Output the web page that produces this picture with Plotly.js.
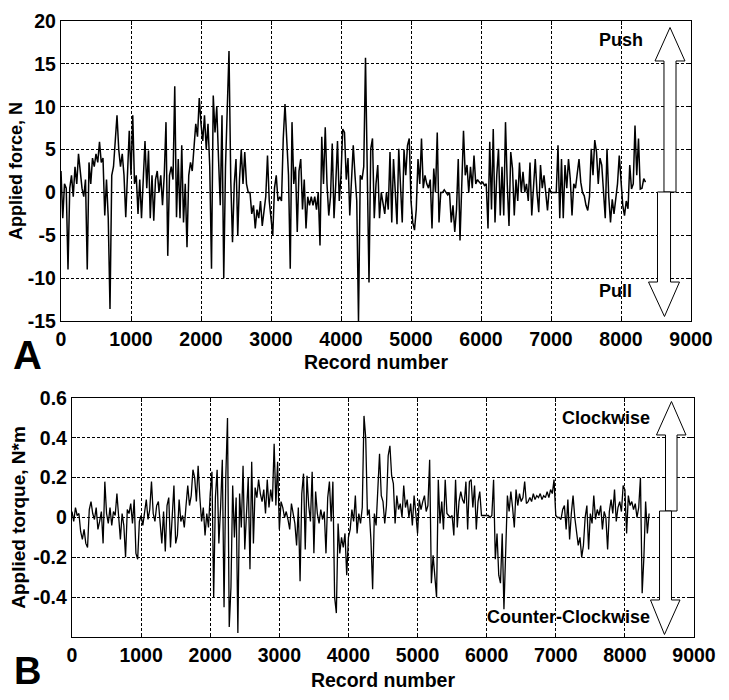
<!DOCTYPE html>
<html>
<head>
<meta charset="utf-8">
<script src="https://cdn.plot.ly/plotly-3.0.1.min.js"></script>
<style>body{margin:0;background:#fff}</style>
</head>
<body>
<div id="chart" style="width:729px;height:700px"></div>
<script>
// one value every 25 records
var step = 25;

var force = [
    2.5, -3, 1, 0.5, -9, 0.5, 2, -0.5, 3, 1, 4.5, 2, 0.5, -0.5, 1.5, -9, 3.5, 1, 4, 3,
    4.5, 3.5, 5.9, 3.5, 4, -2.7, 1.5, -3, -13.6, 2, 3, 6, 9, 5, 3, 4.5, 2, -2.9, 3, 7.2,
    2, 9, 1, 2, -2.5, 1.5, -3, 2, 6, 0.5, 4.9, -3, 2, -3.3, 1.5, 2.5, 0, 2, -1.5, 2,
    8.2, -7.4, 2, 3, 1.5, 12.4, -2.9, 3.9, -3, 5.5, -3.5, 1, -6.4, 2, 3.5, 2.5, 5, 8, 6.5, 11,
    8, 6, 9, 5, 8, 3, -8.9, 11.3, 7, 10, 4, -1.5, 9, -10, 3, 8.6, 16.5, 1.5, -5.8, 1,
    3.9, -5, 1.5, 5, 1, 4.7, 1, 0, 0, -2.5, -1.5, -4.2, -2, -3, -1, -3.9, -2, -0.5, 4.3, -1,
    -3, -5, 0.5, 2, -1, -0.5, -1, 6.3, 10.3, 5.1, 2, -8.9, 8.2, 1, 3, -4.6, 2.5, 3.9, -2, 1.5,
    -4.2, -0.5, -1.5, -0.5, -1.5, -0.5, -2, 0, -6.2, 6.5, 1, 7.6, 1, -2.7, -0.5, 5.7, -3, 1, 6, -1,
    2, 7.4, 7, 1.5, 4, -2.7, 1, 5.5, 2, -1, -15, 2, 1.5, 3, 15.7, 2, -10.5, 5.1, 6.3, -3,
    1, 3.2, -3, 0, -1.5, -2.5, 0, -2, 4.7, -3.5, 3.9, 0.5, -3.7, 5.1, 1, -3.5, 5, 2, 5.5, 6.3,
    -1, -3.5, -4.4, -2, 3.9, 1, 6.3, 0.5, 2, 1, 0.5, 1.5, -4.2, 2.8, 0, 7, -3.5, 0, 0, 0.3,
    0, -0.3, 0, -3.5, -1.5, -4.6, -2, 3.9, -5.6, 0, 7.2, 2, 3.2, 0, 3, 0.5, 4.3, 1, 1.5, 1.2,
    1, 1.2, 0.8, 1, -4.2, 5.9, -2, 7.4, -3.5, 2, 5.1, -2.7, 3, -2.7, 8.2, 1, -3.9, 4.7, 2.8, -2.7,
    1.5, -1, 3.5, 0, 2.4, 0, 1, -1, 3.5, -2.7, 1, 3.9, 0, -2.3, 3.2, 0.5, 2, 0.3, -2.1, 0.5,
    0, 0, 0, 0, 5.5, -3, 3.9, -3, 3.2, 0.5, 3.9, 1.6, -2.7, 1, 0.5, 2, 3.9, 1.2, 0, -0.4,
    -1.5, -2.1, -0.5, 5.1, 2, 6.1, 4.7, 1, 4, 3.2, 0.5, -3, 5.1, -0.5, -3.5, -0.8, -2.5, -0.5, 1, 4.3,
    1.2, -1.5, -2.7, -1, -1.9, 3.2, 0.4, 1, 7.8, 2, 6.3, 0.4, 0.5, 1.6, 1.2
];

var torque = [
    0.03, -0.02, 0.05, 0.01, 0.02, -0.07, -0.11, -0.06, -0.13, -0.15, 0.04, 0.08, 0.02, -0.01, 0.05, -0.06, -0.02, 0.03, -0.13, 0.18,
    0.02, -0.03, 0.05, -0.04, 0.03, 0.01, 0.12, -0.02, -0.11, 0.02, -0.04, -0.2, 0.04, 0.02, 0.07, -0.03, 0.09, -0.18, -0.21, -0.02,
    0.01, -0.04, 0.03, 0.09, -0.01, 0.04, 0.18, 0.02, -0.02, 0.06, 0.08, -0.04, -0.13, 0.03, -0.17, 0.06, 0.1, -0.15, 0.03, 0.16,
    -0.13, -0.09, 0.09, -0.02, 0.01, -0.05, 0.06, 0.16, 0.06, 0.11, 0.24, 0.2, 0.08, 0.26, 0.1, -0.02, 0.05, -0.09, 0.02, -0.05,
    0.12, 0.23, -0.4, 0.1, 0.24, -0.13, 0.05, 0.29, -0.45, 0.2, 0.5, -0.55, -0.35, 0.16, -0.1, 0.1, -0.58, 0.12, -0.05, 0.26,
    -0.16, 0.05, 0.2, -0.26, 0.28, -0.13, 0.15, 0.1, 0.19, 0.12, 0.08, 0.14, 0.02, 0.19, 0.05, 0.14, 0.08, 0.37, 0.06, 0.28,
    -0.06, 0.08, 0.05, 0, 0.03, -0.01, -0.06, 0.07, 0.02, -0.03, -0.14, 0.05, -0.32, 0.12, 0.22, -0.16, 0.21, 0.06, -0.02, 0.23,
    -0.18, 0.13, 0.02, -0.03, 0.04, -0.01, 0.03, -0.18, 0.1, 0.18, -0.02, 0.18, -0.4, -0.48, -0.03, -0.18, -0.1, -0.15, -0.08, -0.29,
    -0.1, -0.06, 0.04, -0.02, 0.11, -0.08, 0.02, -0.03, 0.05, 0.51, 0.4, 0.01, 0.04, -0.11, -0.36, 0.02, -0.04, 0.19, 0.32, 0.11,
    0.08, -0.03, 0.06, 0.31, 0.36, 0.21, 0.17, -0.03, 0.11, 0.04, 0.07, 0, 0.16, 0.05, 0.09, 0, 0.07, -0.04, 0.11, 0.02,
    -0.08, 0.09, 0.04, 0.08, 0.11, 0.03, 0.06, 0.29, -0.33, -0.19, -0.3, -0.4, 0.19, -0.03, 0.08, -0.06, 0.19, 0.02, 0.01, 0,
    0.01, -0.09, 0.19, -0.05, 0.08, 0.13, 0.09, 0.07, 0.18, -0.06, 0.18, 0.19, 0.05, 0.16, -0.06, 0.08, 0.13, 0.01, 0.01, 0.01,
    0.01, 0.01, 0, 0.01, 0.19, -0.21, -0.08, -0.29, -0.33, -0.08, -0.46, -0.1, 0.11, 0.03, 0.13, 0.05, -0.05, 0.14, 0.06, 0.12,
    0.08, 0.1, 0.18, 0.07, 0.08, 0.1, 0.08, 0.12, 0.09, 0.11, 0.1, 0.12, 0.09, 0.11, 0.1, 0.13, 0.1, 0.14, 0.12, 0.19,
    0.01, 0, 0, -0.01, 0.04, 0.06, -0.06, 0.09, -0.11, 0.02, 0.11, 0, -0.08, -0.14, -0.1, -0.2, -0.14, 0, 0.06, -0.16,
    0.02, -0.03, 0.11, -0.01, 0.04, 0.01, 0.06, -0.06, 0.03, 0, -0.16, 0.03, 0.09, 0.02, 0.14, -0.02, 0.05, 0.08, 0.03, 0.16,
    0.14, -0.08, 0.11, 0.06, 0.08, 0.04, 0.07, 0, 0.05, 0.2, -0.38, -0.2, 0.08, -0.08, 0.02
];

var recordTicks = [0, 1000, 2000, 3000, 4000, 5000, 6000, 7000, 8000, 9000];
var forceTicks = [-15, -10, -5, 0, 5, 10, 15, 20];
var forceTickText = ['-15', '-10', '-5', '0', '5', '10', '15', '20'];
var torqueTicks = [-0.4, -0.2, 0, 0.2, 0.4, 0.6];
var torqueTickText = ['-0.4', '-0.2', '0', '0.2', '0.4', '0.6'];

var forceRecords = force.map(function (v, i) { return i * step; });
var torqueRecords = torque.map(function (v, i) { return i * step; });

var W = 729, H = 700;
var FONT = '"Liberation Sans", Arial, Helvetica, sans-serif';

function boldFont(size) {
    return { family: FONT, size: size, color: '#000', weight: 'bold' };
}

function px(x) { return x / W; }
function py(y) { return 1 - y / H; }

function axis(extra) {
    var a = {
        showline: true,
        mirror: 'ticks',
        linecolor: '#000',
        linewidth: 1.2,
        ticks: 'inside',
        ticklen: 4,
        tickcolor: '#000',
        showgrid: true,
        gridcolor: '#000',
        gridwidth: 1,
        griddash: '3px,2px',
        zeroline: false,
        tickfont: boldFont(19.5),
        tickmode: 'array',
        fixedrange: true
    };
    for (var k in extra) a[k] = extra[k];
    return a;
}

// double arrows drawn in pixel space
function arrowPath(points) {
    return 'M' + points.map(function (p) {
        return px(p[0]).toFixed(4) + ',' + py(p[1]).toFixed(4);
    }).join(' L') + ' Z';
}

function arrowShape(points) {
    return {
        type: 'path', xref: 'paper', yref: 'paper', layer: 'above',
        path: arrowPath(points),
        fillcolor: '#fff',
        line: { color: '#000', width: 1 }
    };
}

var shapes = [
    arrowShape([[664, 192], [664, 61], [655, 61], [670, 27.5], [685, 61], [676, 61], [676, 192]]),
    arrowShape([[657.5, 192], [670.5, 192], [670.5, 282], [679.5, 282], [664.5, 316.5], [648.5, 282], [657.5, 282]]),
    arrowShape([[665.5, 511], [665.5, 435], [656.5, 435], [671.5, 401.5], [686, 435], [677, 435], [677, 511]]),
    arrowShape([[659.5, 511], [671.5, 511], [671.5, 600], [680, 600], [664.5, 634.5], [650.5, 600], [659.5, 600]])
];

function label(text, x, y, size, anchor) {
    return {
        text: text, xref: 'paper', yref: 'paper',
        x: px(x), y: py(y), xanchor: anchor || 'center', yanchor: 'middle',
        showarrow: false, font: boldFont(size)
    };
}

var annotations = [
    label('A', 27, 355, 40),
    label('B', 27, 671, 38),
    label('Push', 620.5, 40, 18),
    label('Pull', 615, 291.5, 18),
    label('Clockwise', 652, 418, 18, 'right'),
    label('Counter-Clockwise', 652, 616.5, 18, 'right')
];

var data = [
    {
        x: forceRecords, y: force, xaxis: 'x', yaxis: 'y',
        type: 'scatter', mode: 'lines',
        line: { color: '#000', width: 1.5 }, hoverinfo: 'skip'
    },
    {
        x: torqueRecords, y: torque, xaxis: 'x2', yaxis: 'y2',
        type: 'scatter', mode: 'lines',
        line: { color: '#000', width: 1.3 }, hoverinfo: 'skip'
    }
];

var layout = {
    width: W,
    height: H,
    margin: { l: 0, r: 0, t: 0, b: 0, pad: 0 },
    paper_bgcolor: '#fff',
    plot_bgcolor: '#fff',
    showlegend: false,
    xaxis: axis({
        domain: [px(61), px(691)], anchor: 'y', range: [0, 9000],
        tickvals: recordTicks, ticktext: recordTicks.map(String),
        title: { text: 'Record number', font: boldFont(19.5), standoff: 6 }
    }),
    yaxis: axis({
        domain: [py(321), py(21)], anchor: 'x', range: [-15, 20],
        tickvals: forceTicks, ticktext: forceTickText,
        title: { text: 'Applied force, N', font: boldFont(18), standoff: 0 }
    }),
    xaxis2: axis({
        domain: [px(72), px(694)], anchor: 'y2', range: [0, 9000],
        tickvals: recordTicks, ticktext: recordTicks.map(String),
        title: { text: 'Record number', font: boldFont(19.5), standoff: 8 }
    }),
    yaxis2: axis({
        domain: [py(637), py(398)], anchor: 'x2', range: [-0.6, 0.6],
        tickvals: torqueTicks, ticktext: torqueTickText,
        title: { text: 'Applied torque, N*m', font: boldFont(19), standoff: 2 }
    }),
    shapes: shapes,
    annotations: annotations
};

Plotly.newPlot('chart', data, layout, { staticPlot: true, displayModeBar: false });
</script>
</body>
</html>
